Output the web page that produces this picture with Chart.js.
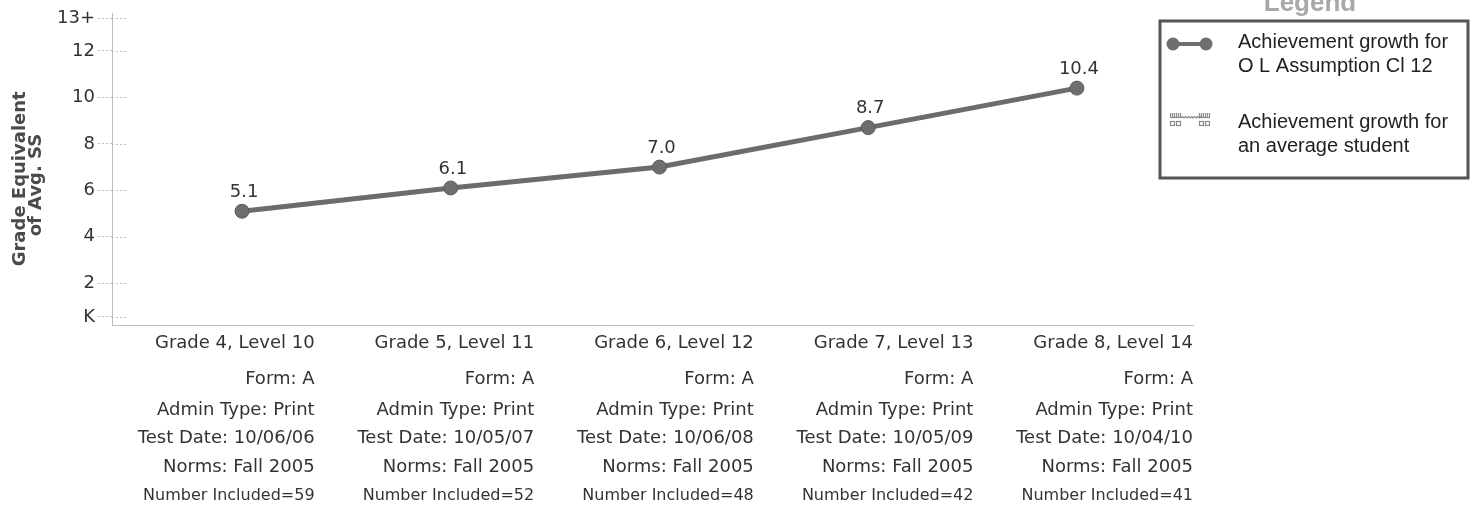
<!DOCTYPE html>
<html>
<head>
<meta charset="UTF-8">
<title>growth.html</title>
<script src="https://cdn.jsdelivr.net/npm/chart.js"></script>
<style>
  html, body { margin: 0; padding: 0; background: #fff; }
</style>
</head>
<body>
<canvas id="growthChart" width="1472" height="514"></canvas>

<script>
    // 表の列（x軸の下）
    const gradeLevels = ['Grade 4, Level 10', 'Grade 5, Level 11', 'Grade 6, Level 12', 'Grade 7, Level 13', 'Grade 8, Level 14'];
    const forms = ['Form: A', 'Form: A', 'Form: A', 'Form: A', 'Form: A'];
    const adminTypes = ['Admin Type: Print', 'Admin Type: Print', 'Admin Type: Print', 'Admin Type: Print', 'Admin Type: Print'];
    const testDates = ['Test Date: 10/06/06', 'Test Date: 10/05/07', 'Test Date: 10/06/08', 'Test Date: 10/05/09', 'Test Date: 10/04/10'];
    const norms = ['Norms: Fall 2005', 'Norms: Fall 2005', 'Norms: Fall 2005', 'Norms: Fall 2005', 'Norms: Fall 2005'];
    const numberIncluded = ['Number Included=59', 'Number Included=52', 'Number Included=48', 'Number Included=42', 'Number Included=41'];

    // 系列データ
    const schoolGrowth = [5.1, 6.1, 7.0, 8.7, 10.4];
    const averageGrowth = []; // この報告では線なし

    // y軸の目盛り
    const yTickValues = [0.55, 2, 4, 6, 8, 10, 12, 13.4];
    const yTickLabels = ['K', '2', '4', '6', '8', '10', '12', '13+'];

    const seriesLabels = [
        ['Achievement growth for', 'O L Assumption Cl 12'],
        ['Achievement growth for', 'an average student']
    ];

    const tickFont = 'DejaVu Sans';
    const axisGray = '#bdbdbd';

    // 点の上に値を表示
    const valueLabels = {
        id: 'valueLabels',
        afterDatasetsDraw(chart) {
            const ctx = chart.ctx;
            const meta = chart.getDatasetMeta(0);
            ctx.save();
            ctx.font = '18px "' + tickFont + '"';
            ctx.fillStyle = '#333';
            ctx.textAlign = 'center';
            ctx.textBaseline = 'middle';
            meta.data.forEach(function(pt, i) {
                ctx.fillText(schoolGrowth[i].toFixed(1), pt.x + 2, pt.y - 19);
            });
            ctx.restore();
        }
    };

    // 目盛り線の内側の部分
    const tickStubs = {
        id: 'tickStubs',
        afterDraw(chart) {
            const ctx = chart.ctx;
            const y = chart.scales.y;
            const left = chart.chartArea.left;
            ctx.save();
            ctx.strokeStyle = axisGray;
            ctx.lineWidth = 1;
            ctx.setLineDash([2, 2]);
            y.ticks.forEach(function(t) {
                const py = Math.round(y.getPixelForValue(t.value)) + 0.5;
                ctx.beginPath();
                ctx.moveTo(left, py);
                ctx.lineTo(left + 14, py);
                ctx.stroke();
            });
            ctx.restore();
        }
    };

    // x軸の下の表
    const columnTable = {
        id: 'columnTable',
        afterDraw(chart) {
            const ctx = chart.ctx;
            const area = chart.chartArea;
            const n = gradeLevels.length;
            const step = (area.right - (area.left - 17)) / n;
            const rows = [
                { list: gradeLevels, dy: 18, size: 18 },
                { list: forms, dy: 54, size: 18 },
                { list: adminTypes, dy: 85, size: 18 },
                { list: testDates, dy: 113, size: 18 },
                { list: norms, dy: 142, size: 18 },
                { list: numberIncluded, dy: 171, size: 16 }
            ];
            ctx.save();
            ctx.fillStyle = '#333';
            ctx.textAlign = 'right';
            ctx.textBaseline = 'middle';
            rows.forEach(function(row) {
                ctx.font = row.size + 'px "' + tickFont + '"';
                row.list.forEach(function(txt, i) {
                    const x = area.right - (n - 1 - i) * step;
                    ctx.fillText(txt, x, area.bottom + row.dy);
                });
            });
            ctx.restore();
        }
    };

    // 凡例（枠付き）
    const boxLegend = {
        id: 'boxLegend',
        afterDraw(chart) {
            const ctx = chart.ctx;
            const bx = 1160, by = 21, bw = 308, bh = 157;
            ctx.save();

            ctx.font = 'bold 26px "Liberation Sans"';
            ctx.fillStyle = '#a8a8a8';
            ctx.textAlign = 'center';
            ctx.textBaseline = 'alphabetic';
            ctx.fillText('Legend', bx + bw / 2 - 4, 11);

            ctx.strokeStyle = '#555';
            ctx.lineWidth = 3;
            ctx.strokeRect(bx, by, bw, bh);

            ctx.font = '20px "Liberation Sans"';
            ctx.fillStyle = '#222';
            ctx.textAlign = 'left';
            ctx.textBaseline = 'middle';
            const itemTop = [42, 122];
            chart.data.datasets.forEach(function(ds, i) {
                ds.label.forEach(function(line, j) {
                    ctx.fillText(line, 1238, itemTop[i] + j * 24);
                });
            });

            // 記号1: 丸-線-丸
            const my = 44;
            ctx.strokeStyle = '#6e6e6e';
            ctx.lineWidth = 4;
            ctx.beginPath();
            ctx.moveTo(1173, my);
            ctx.lineTo(1206, my);
            ctx.stroke();
            ctx.fillStyle = '#6e6e6e';
            [1173, 1206].forEach(function(cx) {
                ctx.beginPath();
                ctx.arc(cx, my, 6.5, 0, Math.PI * 2);
                ctx.fill();
            });

            // 記号2: 網目模様の線
            const ay = 120;
            ctx.strokeStyle = '#8a8a8a';
            ctx.lineWidth = 1.2;
            ctx.beginPath();
            ctx.moveTo(1181, ay - 2);
            for (let x = 1181; x <= 1199; x += 3) {
                ctx.lineTo(x + 1.5, ay - 3.5);
                ctx.lineTo(x + 3, ay - 2);
            }
            ctx.stroke();
            [1170, 1199].forEach(function(x0) {
                ctx.beginPath();
                ctx.moveTo(x0, ay - 2.5);
                ctx.lineTo(x0 + 11, ay - 2.5);
                ctx.stroke();
                for (let k = 0; k <= 10; k += 2) {
                    ctx.beginPath();
                    ctx.moveTo(x0 + k + 0.5, ay - 7);
                    ctx.lineTo(x0 + k + 0.5, ay - 3);
                    ctx.stroke();
                }
                ctx.strokeRect(x0 + 0.5, ay + 1.5, 4, 4);
                ctx.strokeRect(x0 + 6.5, ay + 1.5, 4, 4);
            });
            ctx.restore();
        }
    };

    const config = {
        type: 'line',
        data: {
            datasets: [{
                label: seriesLabels[0],
                data: schoolGrowth.map(function(v, i) { return { x: i, y: v }; }),
                borderColor: '#6c6c6c',
                borderWidth: 5,
                pointRadius: 7,
                pointBackgroundColor: '#6e6e6e',
                pointBorderColor: '#5c5c5c',
                pointBorderWidth: 1,
                tension: 0
            }, {
                label: seriesLabels[1],
                data: averageGrowth,
                borderColor: '#a0a0a0',
                borderWidth: 2,
                pointRadius: 0
            }]
        },
        options: {
            responsive: false,
            animation: false,
            layout: {
                padding: { left: 0, top: 12, right: 279, bottom: 189 }
            },
            plugins: {
                legend: { display: false },
                tooltip: { enabled: false }
            },
            scales: {
                x: {
                    type: 'linear',
                    min: -0.623,
                    max: 4.556,
                    ticks: { display: false },
                    grid: { display: false },
                    border: { display: true, color: axisGray, width: 1, dash: [2, 2] },
                    afterFit: function(s) { s.height = 0; }
                },
                y: {
                    type: 'linear',
                    min: 0.2,
                    max: 13.6,
                    afterBuildTicks: function(s) {
                        s.ticks = yTickValues.map(function(v) { return { value: v }; });
                    },
                    afterFit: function(s) { s.width = 112; },
                    ticks: {
                        autoSkip: false,
                        padding: 3,
                        color: '#333',
                        font: { family: tickFont, size: 18 },
                        callback: function(value) {
                            return yTickLabels[yTickValues.indexOf(value)];
                        }
                    },
                    grid: {
                        display: true,
                        drawOnChartArea: false,
                        drawTicks: true,
                        tickLength: 14,
                        tickColor: axisGray,
                        tickBorderDash: [2, 2]
                    },
                    border: { display: true, color: axisGray, width: 1, dash: [2, 2] },
                    title: {
                        display: true,
                        // 末尾の空白で少し下へずらす
                        text: ['Grade Equivalent   ', 'of Avg. SS     '],
                        color: '#4a4a4a',
                        font: { family: tickFont, weight: 'bold', size: 18, lineHeight: 0.9 },
                        padding: { top: 12, bottom: 0 }
                    }
                }
            }
        },
        plugins: [valueLabels, tickStubs, columnTable, boxLegend]
    };

    new Chart(document.getElementById('growthChart'), config);
</script>
</body>
</html>
